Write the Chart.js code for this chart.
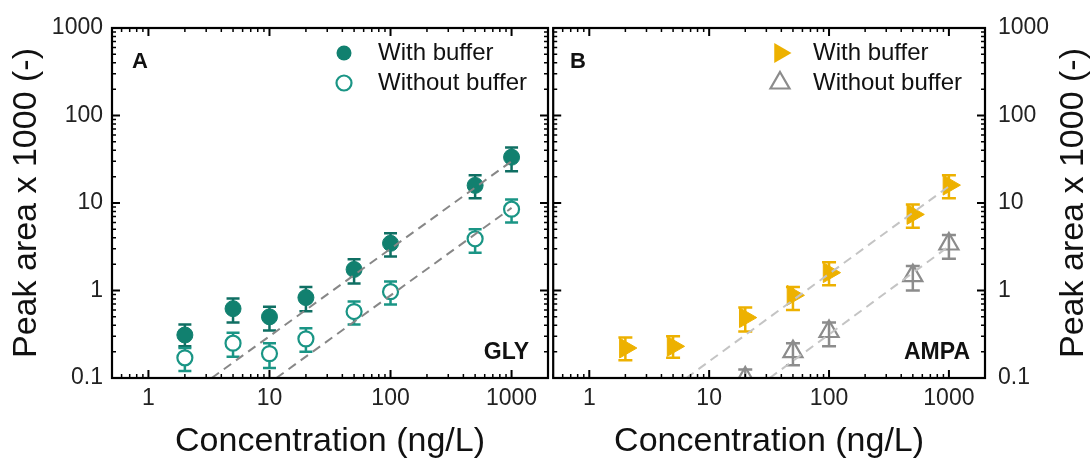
<!DOCTYPE html>
<html><head><meta charset="utf-8">
<script src="https://cdn.jsdelivr.net/npm/chart.js@4.4.1/dist/chart.umd.min.js"></script>
<style>
html,body{margin:0;padding:0;background:#fff;width:1092px;height:460px;overflow:hidden}
#wa{position:absolute;left:0;top:0;width:560px;height:460px}
#wb{position:absolute;left:540px;top:0;width:552px;height:460px}
canvas{display:block}
</style></head><body>
<div id="wa"><canvas id="ca" width="560" height="460"></canvas></div>
<div id="wb"><canvas id="cb" width="552" height="460"></canvas></div>
<script>
// ---------- data ----------
const xTicks = [1, 10, 100, 1000];
const xTickLabels = ['1', '10', '100', '1000'];
const yTicks = [0.1, 1, 10, 100, 1000];
const yTickLabels = ['0.1', '1', '10', '100', '1000'];

// Panel A: GLY
const concGly = [2, 5, 10, 20, 50, 100, 500, 1000];
const glyWith = [0.31, 0.62, 0.50, 0.83, 1.74, 3.46, 15.9, 33.4];
const glyWithLow = [0.23, 0.43, 0.35, 0.58, 1.2, 2.45, 11.3, 23];
const glyWithHigh = [0.41, 0.81, 0.65, 1.1, 2.27, 4.5, 20.8, 43];
const glyWithout = [0.17, 0.25, 0.19, 0.28, 0.575, 0.97, 3.9, 8.5];
const glyWithoutLow = [0.12, 0.175, 0.13, 0.2, 0.41, 0.69, 2.7, 6.0];
const glyWithoutHigh = [0.22, 0.33, 0.25, 0.37, 0.75, 1.27, 5.0, 11];
const fitGlyWithX = [3.33, 1000];
const fitGlyWithY = [0.1, 30];
const fitGlyWithoutX = [11.4, 1000];
const fitGlyWithoutY = [0.1, 8.8];

// Panel B: AMPA
const concAmpaWith = [2, 5, 20, 50, 100, 500, 1000];
const ampaWith = [0.22, 0.23, 0.49, 0.88, 1.6, 7.4, 16];
const ampaWithLow = [0.16, 0.17, 0.34, 0.6, 1.15, 5.2, 11.3];
const ampaWithHigh = [0.29, 0.30, 0.64, 1.1, 2.1, 9.6, 20.8];
const concAmpaWithout = [20, 50, 100, 500, 1000];
const ampaWithout = [0.1, 0.2, 0.34, 1.48, 3.4];
const ampaWithoutLow = [0.08, 0.14, 0.23, 1.0, 2.3];
const ampaWithoutHigh = [0.125, 0.25, 0.43, 1.9, 4.3];
const fitAmpaWithX = [6.45, 1000];
const fitAmpaWithY = [0.1, 15.5];
const fitAmpaWithoutX = [32, 1000];
const fitAmpaWithoutY = [0.1, 3.2];

// ---------- helpers ----------
const FONT = "'Liberation Sans', Arial, sans-serif";
Chart.defaults.font.family = FONT;
const pts = (xs, ys) => xs.map((v, i) => ({x: v, y: ys[i]}));

function minorValues(lo, hi) {
  const out = [];
  for (let e = -3; e <= 5; e++) {
    const d = Math.pow(10, e);
    for (let m = 1; m <= 9; m++) {
      const v = m * d;
      if (v >= lo * 0.9999 && v <= hi * 1.0001) out.push({v: v, major: m === 1});
    }
  }
  return out;
}

function marker(ctx, style, x, y, r, fill, stroke, lw) {
  ctx.beginPath();
  if (style === 'circle') ctx.arc(x, y, r, 0, 2 * Math.PI);
  else if (style === 'triRight') { ctx.moveTo(x + r, y); ctx.lineTo(x - r / 2, y - r * 0.866); ctx.lineTo(x - r / 2, y + r * 0.866); ctx.closePath(); }
  else { ctx.moveTo(x, y - r); ctx.lineTo(x + r * 0.866, y + r / 2); ctx.lineTo(x - r * 0.866, y + r / 2); ctx.closePath(); }
  if (fill) { ctx.fillStyle = fill; ctx.fill(); }
  if (stroke) { ctx.strokeStyle = stroke; ctx.lineWidth = lw; ctx.stroke(); }
}

function makePlugin(cfg) {
  return {
    id: 'deco',
    beforeDatasetsDraw(chart) {
      const {ctx, chartArea: a, scales: {x, y}} = chart;
      ctx.save();
      ctx.beginPath(); ctx.rect(a.left, a.top, a.width, a.height); ctx.clip();
      chart.data.datasets.forEach(ds => {
        if (!ds.errLow) return;
        ctx.strokeStyle = ds.errColor; ctx.lineWidth = 2.5;
        const c = ds.cap;
        ds.data.forEach((p, i) => {
          const px = x.getPixelForValue(p.x);
          const yl = y.getPixelForValue(ds.errLow[i]);
          const yh = y.getPixelForValue(ds.errHigh[i]);
          ctx.beginPath();
          ctx.moveTo(px, yl); ctx.lineTo(px, yh);
          ctx.moveTo(px - c, yl); ctx.lineTo(px + c, yl);
          ctx.moveTo(px - c, yh); ctx.lineTo(px + c, yh);
          ctx.stroke();
        });
      });
      ctx.restore();
    },
    afterDatasetsDraw(chart) {
      const {ctx, chartArea: a, scales: {x, y}} = chart;
      ctx.save();
      ctx.strokeStyle = '#000';
      // ticks (inward on all four sides)
      minorValues(x.min, x.max).forEach(t => {
        const px = x.getPixelForValue(t.v);
        const L = t.major ? 8 : 4;
        ctx.lineWidth = t.major ? 2 : 1.5;
        ctx.beginPath();
        ctx.moveTo(px, a.bottom); ctx.lineTo(px, a.bottom - L);
        ctx.moveTo(px, a.top); ctx.lineTo(px, a.top + L);
        ctx.stroke();
      });
      minorValues(y.min, y.max).forEach(t => {
        const py = y.getPixelForValue(t.v);
        const L = t.major ? 8 : 4;
        ctx.lineWidth = t.major ? 2 : 1.5;
        ctx.beginPath();
        ctx.moveTo(a.left, py); ctx.lineTo(a.left + L, py);
        ctx.moveTo(a.right, py); ctx.lineTo(a.right - L, py);
        ctx.stroke();
      });
      // frame
      ctx.lineWidth = 2.2;
      ctx.strokeRect(a.left, a.top, a.width, a.height);

      // panel letter and compound label
      ctx.fillStyle = '#111';
      ctx.textBaseline = 'middle';
      ctx.font = 'bold 22px ' + FONT;
      ctx.textAlign = 'left';
      ctx.fillText(cfg.letter, cfg.letterX, 62);
      ctx.font = 'bold 23px ' + FONT;
      ctx.textAlign = 'right';
      ctx.fillText(cfg.name, cfg.nameX, 353);

      // legend
      ctx.font = '24px ' + FONT;
      ctx.textAlign = 'left';
      cfg.legend.forEach((l, i) => {
        const ly = 53 + i * 30;
        marker(ctx, l.style, cfg.legX, ly, l.r, l.fill, l.stroke, l.lw);
        ctx.fillStyle = '#111';
        ctx.fillText(l.text, cfg.legTextX, ly);
      });

      // right-side title (reads bottom to top)
      if (cfg.rightTitle) {
        ctx.save();
        ctx.translate(cfg.rightTitleX, (a.top + a.bottom) / 2);
        ctx.rotate(-Math.PI / 2);
        ctx.font = '34px ' + FONT;
        ctx.textAlign = 'center';
        ctx.textBaseline = 'middle';
        ctx.fillStyle = '#111';
        ctx.fillText(cfg.rightTitle, 0, 0);
        ctx.restore();
      }
      ctx.restore();
    }
  };
}

function xScale() {
  return {
    type: 'logarithmic', position: 'bottom', min: 0.5, max: 2000,
    grid: {display: false, drawTicks: false}, border: {display: false},
    afterBuildTicks: s => { s.ticks = xTicks.map(v => ({value: v})); },
    afterFit: s => { s.height = 82; s.paddingLeft = 0; s.paddingRight = 0; },
    ticks: {autoSkip: false, maxRotation: 0, padding: 7, color: '#222', font: {size: 23},
      callback: v => xTickLabels[xTicks.indexOf(v)]},
    title: {display: true, text: 'Concentration (ng/L)', color: '#111', font: {size: 34, lineHeight: 1.1}, padding: 0}
  };
}

function yScale(position, width, pad, showTitle) {
  return {
    type: 'logarithmic', position: position, min: 0.1, max: 1000,
    grid: {display: false, drawTicks: false}, border: {display: false},
    afterBuildTicks: s => { s.ticks = yTicks.map(v => ({value: v})); },
    afterFit: s => { s.width = width; },
    ticks: {autoSkip: false, padding: pad, color: '#222', font: {size: 23},
      callback: v => yTickLabels[yTicks.indexOf(v)]},
    title: {display: showTitle, text: 'Peak area x 1000 (-)', color: '#111', font: {size: 34, lineHeight: 1.2}, padding: {top: 6, bottom: 0}}
  };
}

const common = {
  responsive: false, animation: false,
  plugins: {legend: {display: false}, tooltip: {enabled: false}}
};

const tealFill = '#11806F', tealOpen = '#1A9585', tealBar = '#0f6f63';
const yellow = '#EDB100', gray = '#8C8C8C';

// ---------- Panel A ----------
new Chart(document.getElementById('ca'), {
  type: 'scatter',
  data: {datasets: [
    {data: pts(fitGlyWithX, fitGlyWithY), showLine: true, borderColor: '#878787', borderWidth: 2, borderDash: [9, 6], pointRadius: 0, clip: 0},
    {data: pts(fitGlyWithoutX, fitGlyWithoutY), showLine: true, borderColor: '#878787', borderWidth: 2, borderDash: [9, 6], pointRadius: 0, clip: 0},
    {label: 'With buffer', data: pts(concGly, glyWith), pointStyle: 'circle', pointRadius: 8,
      backgroundColor: tealFill, borderColor: tealFill, borderWidth: 1,
      errLow: glyWithLow, errHigh: glyWithHigh, errColor: tealBar, cap: 6.5, clip: 0},
    {label: 'Without buffer', data: pts(concGly, glyWithout), pointStyle: 'circle', pointRadius: 7.5,
      backgroundColor: '#fff', borderColor: tealOpen, borderWidth: 2.2,
      errLow: glyWithoutLow, errHigh: glyWithoutHigh, errColor: tealOpen, cap: 6.5, clip: 0}
  ]},
  options: Object.assign({}, common, {
    layout: {padding: {top: 28, right: 12, bottom: 0, left: 0}},
    scales: {x: xScale(), y: yScale('left', 112, 9, true)}
  }),
  plugins: [makePlugin({
    letter: 'A', letterX: 132, name: 'GLY', nameX: 529,
    legX: 344, legTextX: 378,
    legend: [
      {style: 'circle', r: 7.5, fill: tealFill, stroke: null, lw: 0, text: 'With buffer'},
      {style: 'circle', r: 7.5, fill: '#fff', stroke: tealOpen, lw: 2.2, text: 'Without buffer'}
    ]
  })]
});

// ---------- Panel B ----------
new Chart(document.getElementById('cb'), {
  type: 'scatter',
  data: {datasets: [
    {data: pts(fitAmpaWithX, fitAmpaWithY), showLine: true, borderColor: '#c4c4c4', borderWidth: 2, borderDash: [9, 6], pointRadius: 0, clip: 0},
    {data: pts(fitAmpaWithoutX, fitAmpaWithoutY), showLine: true, borderColor: '#c4c4c4', borderWidth: 2, borderDash: [9, 6], pointRadius: 0, clip: 0},
    {label: 'With buffer', data: pts(concAmpaWith, ampaWith), pointStyle: 'triangle', rotation: 90, pointRadius: 11.5,
      backgroundColor: yellow, borderColor: yellow, borderWidth: 1,
      errLow: ampaWithLow, errHigh: ampaWithHigh, errColor: yellow, cap: 7, clip: 0},
    {label: 'Without buffer', data: pts(concAmpaWithout, ampaWithout), pointStyle: 'triangle', pointRadius: 11,
      backgroundColor: 'rgba(0,0,0,0)', borderColor: gray, borderWidth: 2.2,
      errLow: ampaWithoutLow, errHigh: ampaWithoutHigh, errColor: gray, cap: 7, clip: 0}
  ]},
  options: Object.assign({}, common, {
    layout: {padding: {top: 28, right: 0, bottom: 0, left: 9}},
    scales: {x: xScale(), y: yScale('right', 107, 13, false)}
  }),
  plugins: [makePlugin({
    letter: 'B', letterX: 30, name: 'AMPA', nameX: 430,
    legX: 240, legTextX: 273,
    rightTitle: 'Peak area x 1000 (-)', rightTitleX: 534,
    legend: [
      {style: 'triRight', r: 11.5, fill: yellow, stroke: null, lw: 0, text: 'With buffer'},
      {style: 'triUp', r: 11, fill: null, stroke: gray, lw: 2.2, text: 'Without buffer'}
    ]
  })]
});
</script>
</body></html>
